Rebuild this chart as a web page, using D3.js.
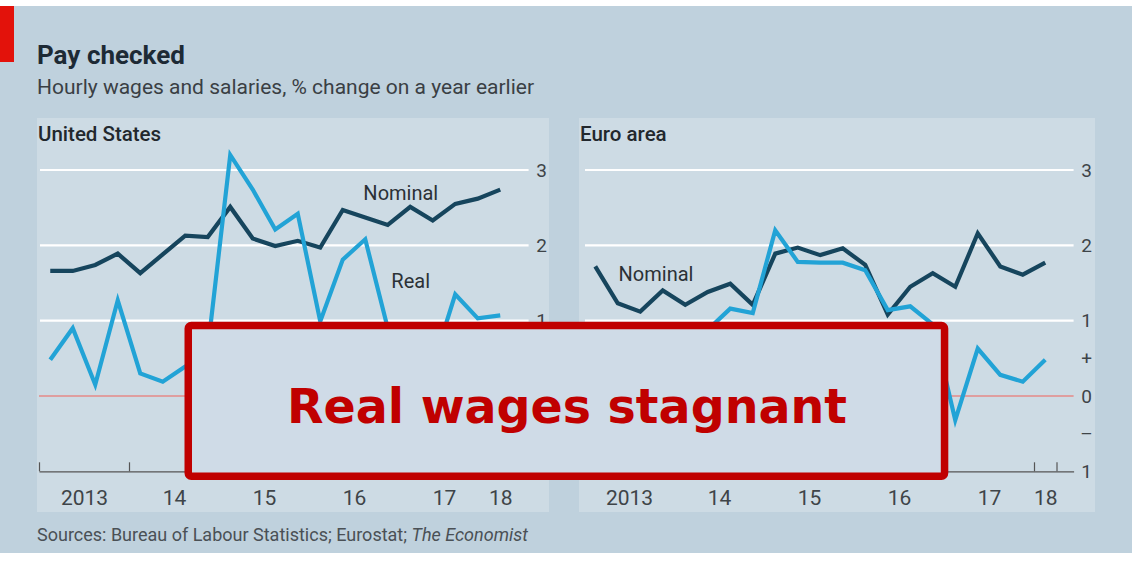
<!DOCTYPE html>
<html>
<head>
<meta charset="utf-8">
<script src="https://cdn.jsdelivr.net/npm/d3@7"></script>
<style>
  body { margin: 0; background: #fff; }
  svg { display: block; font-family: Roboto, "Noto Sans", sans-serif; }
</style>
</head>
<body>
<div id="chart"></div>
<script>
// quarterly data, 2013Q1 - 2018Q1
var quarters = ["2013Q1","2013Q2","2013Q3","2013Q4","2014Q1","2014Q2","2014Q3","2014Q4",
                "2015Q1","2015Q2","2015Q3","2015Q4","2016Q1","2016Q2","2016Q3","2016Q4",
                "2017Q1","2017Q2","2017Q3","2017Q4","2018Q1"];
var usNominal = [1.66,1.66,1.74,1.89,1.63,1.88,2.13,2.11,2.51,2.09,1.99,2.06,1.97,2.47,2.37,2.27,2.51,2.33,2.55,2.62,2.74];
var usReal    = [0.48,0.90,0.15,1.27,0.30,0.19,0.39,0.62,3.20,2.74,2.21,2.42,0.99,1.81,2.08,0.90,0.20,0.40,1.35,1.03,1.07];
var euNominal = [1.72,1.23,1.12,1.40,1.21,1.38,1.49,1.21,1.89,1.97,1.87,1.96,1.74,1.08,1.45,1.63,1.45,2.16,1.72,1.61,1.77];
var euReal    = [-0.20,-0.15,-0.20,0.60,0.60,0.88,1.16,1.10,2.20,1.78,1.77,1.77,1.67,1.14,1.19,0.95,-0.32,0.63,0.28,0.19,0.48];

var yearTicks = [2013,2014,2015,2016,2017,2018,2018.25];      // tick marks on the x axis
var yearLabelPos = [2013.5,2014.5,2015.5,2016.5,2017.5,2018.125];
var yearLabels = ["2013","14","15","16","17","18"];
var yTickValues = [-1,-0.5,0,0.5,1,2,3];
var yTickLabels = ["1","\u2013","0","+","1","2","3"];
var gridValues = [1,2,3];

function init(){
    var w = 1132, h = 563;
    var nominalColor = "#16455d", realColor = "#22a3d6";

    var svg = d3.select("#chart").append("svg")
                .attr("width", w)
                .attr("height", h);

    // background + red tag
    svg.append("rect").attr("x",0).attr("y",6).attr("width",w).attr("height",547).attr("fill","#bfd1dd");
    svg.append("rect").attr("x",0).attr("y",6).attr("width",14).attr("height",56).attr("fill","#e3120b");

    svg.append("text").attr("x",37).attr("y",64)
        .attr("font-size",26).attr("font-weight",700).attr("fill","#1d2a35")
        .text("Pay checked");
    svg.append("text").attr("x",37).attr("y",94)
        .attr("font-size",21).attr("fill","#3a3f44")
        .text("Hourly wages and salaries, % change on a year earlier");

    var y = d3.scaleLinear().domain([-1,3]).range([471.3,170]);

    // quarter label -> decimal year at quarter midpoint
    function qx(q){ return +q.slice(0,4) + (+q.slice(5) - 0.5)/4; }

    var panels = [
        {title:"United States", left:37, right:549, x0:39, nominal:usNominal, real:usReal,
         yLabels:[1,2,3],
         labels:[{t:"Nominal", x:2017.02, y:2.6}, {t:"Real", x:2017.13, y:1.44}]},
        {title:"Euro area", left:579, right:1095, x0:584, nominal:euNominal, real:euReal,
         yLabels:yTickValues,
         labels:[{t:"Nominal", x:2013.8, y:1.52}]}
    ];

    panels.forEach(function(p){
        var x = d3.scaleLinear().domain([2013, 2018.44]).range([p.x0, p.x0 + 5.44*90]);
        var g = svg.append("g");

        g.append("rect").attr("x",p.left).attr("y",118)
            .attr("width",p.right-p.left).attr("height",394).attr("fill","#cddbe4");
        g.append("text").attr("x",p.left+1).attr("y",141)
            .attr("font-size",20.5).attr("font-weight",500).attr("fill","#22282d")
            .text(p.title);

        // white gridlines
        g.selectAll(".grid").data(gridValues).enter().append("line")
            .attr("x1",x.range()[0]+1).attr("x2",x.range()[1])
            .attr("y1",function(d){ return y(d); }).attr("y2",function(d){ return y(d); })
            .attr("stroke","#fff").attr("stroke-width",2.2);
        // zero line
        g.append("line").attr("x1",x.range()[0]).attr("x2",x.range()[1])
            .attr("y1",y(0)).attr("y2",y(0))
            .attr("stroke","#e58a88").attr("stroke-width",1.5);

        // y labels on the right (US ones below 1 sit under the overlay box)
        var yAxis = d3.axisRight(y).tickValues(p.yLabels).tickSize(0)
            .tickFormat(function(d){ return yTickLabels[yTickValues.indexOf(d)]; });
        var ya = g.append("g").attr("transform","translate(" + (x.range()[1]+13) + ",0)").call(yAxis);
        ya.select(".domain").remove();
        ya.selectAll("text").attr("x",0).attr("text-anchor","middle")
            .attr("font-family","Roboto, sans-serif").attr("font-size",19).attr("fill","#3e4448");

        // x axis: ticks at year boundaries
        var xAxis = d3.axisBottom(x).tickValues(yearTicks).tickSizeInner(-9).tickSizeOuter(0).tickFormat("");
        var xa = g.append("g").attr("transform","translate(0," + y(-1) + ")").call(xAxis);
        xa.select(".domain").attr("stroke","#555").attr("stroke-width",1.2);
        xa.selectAll(".tick line").attr("stroke","#555").attr("stroke-width",1.2);

        var xLab = d3.axisBottom(x).tickValues(yearLabelPos).tickSize(0)
            .tickFormat(function(d,i){ return yearLabels[i]; });
        var xl = g.append("g").attr("transform","translate(0," + y(-1) + ")").call(xLab);
        xl.select(".domain").remove();
        xl.selectAll("text").attr("dy",null).attr("y",34)
            .attr("font-family","Roboto, sans-serif").attr("font-size",21).attr("fill","#3e4448");

        var line = d3.line()
            .x(function(d,i){ return x(qx(quarters[i])); })
            .y(function(d){ return y(d); });

        g.append("path").datum(p.nominal).attr("d",line)
            .attr("fill","none").attr("stroke",nominalColor).attr("stroke-width",4.2)
            .attr("stroke-linejoin","miter");
        g.append("path").datum(p.real).attr("d",line)
            .attr("fill","none").attr("stroke",realColor).attr("stroke-width",4.2)
            .attr("stroke-linejoin","miter");

        g.selectAll(".lab").data(p.labels).enter().append("text")
            .attr("x",function(d){ return x(d.x); }).attr("y",function(d){ return y(d.y); })
            .attr("text-anchor","middle").attr("font-size",20).attr("fill","#2b3136")
            .text(function(d){ return d.t; });
    });

    // sources
    var src = svg.append("text").attr("x",37).attr("y",541)
        .attr("font-size",18).attr("fill","#4a5055");
    src.append("tspan").text("Sources: Bureau of Labour Statistics; Eurostat; ");
    src.append("tspan").attr("font-style","italic").text("The Economist");

    // overlay box
    svg.append("rect").attr("x",188.25).attr("y",325.5).attr("width",756.3).attr("height",150.7)
        .attr("rx",3).attr("fill","#cfdbe7").attr("stroke","#c00000").attr("stroke-width",7.5);
    svg.append("text").attr("x",567).attr("y",423)
        .attr("text-anchor","middle").attr("font-family","'DejaVu Sans', Verdana, sans-serif")
        .attr("font-weight",700).attr("font-size",47.5).attr("fill","#c00000")
        .text("Real wages stagnant");
}
window.onload = init;
</script>
</body>
</html>
